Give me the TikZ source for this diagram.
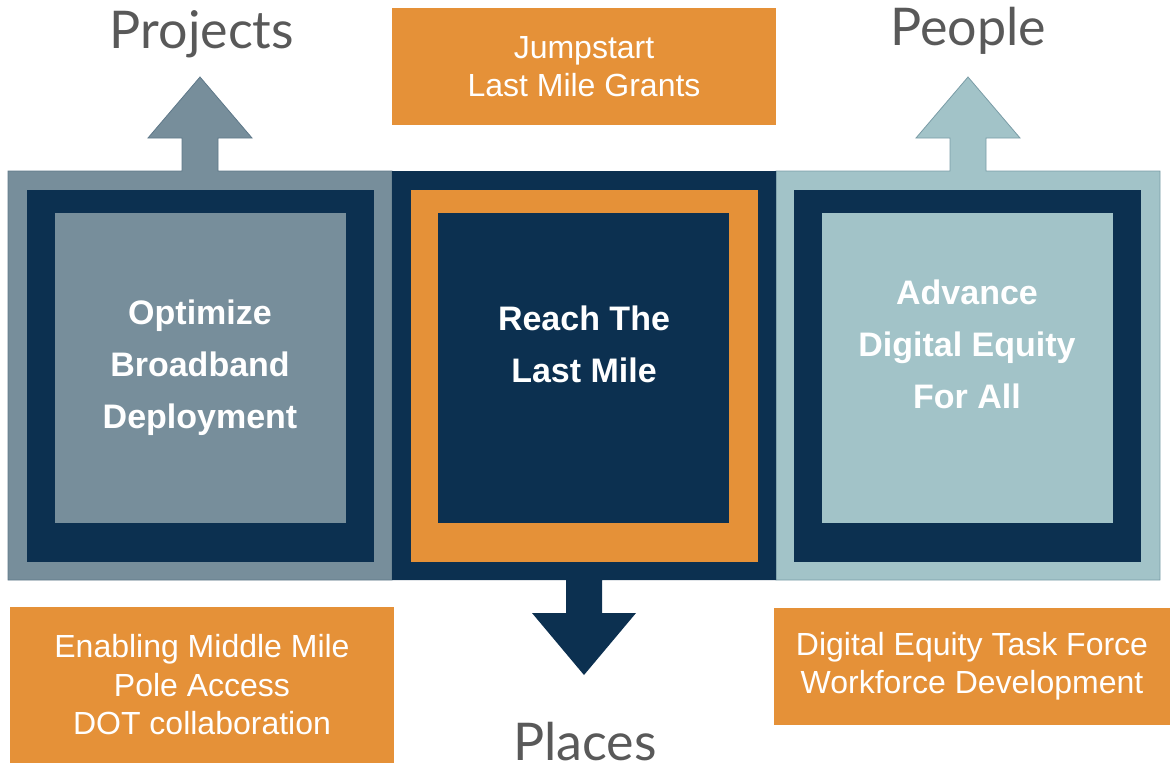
\documentclass[tikz,border=0pt]{standalone}
\usepackage{fontspec}
\setmainfont{Liberation Sans}
\newfontfamily\titlefont{Lato}
\definecolor{slate}{HTML}{778E9B}
\definecolor{slateedge}{HTML}{5E7889}
\definecolor{navy}{HTML}{0C3050}
\definecolor{orng}{HTML}{E59138}
\definecolor{teal}{HTML}{A2C3C8}
\definecolor{tealedge}{HTML}{7A9CA6}
\definecolor{txtgray}{HTML}{595959}
\tikzset{
  titletext/.style={font=\titlefont\fontsize{52}{60}\selectfont, text=txtgray, inner sep=0pt, anchor=base},
  panetext/.style={font=\bfseries\fontsize{34}{52}\selectfont, text=white, align=center, inner sep=0pt},
  notebox/.style={fill=orng, text=white, align=center, inner sep=0pt, font=\fontsize{32}{38.5}\selectfont},
}
\begin{document}
\begin{tikzpicture}[x=1pt,y=-1pt]
\useasboundingbox (0,0) rectangle (1170,772);
% left panel with up arrow
\filldraw[fill=slate, draw=slateedge, line width=0.8pt]
  (8,171) -- (182,171) -- (182,138) -- (148,138) -- (200,77) -- (252,138) -- (218,138) -- (218,171)
  -- (392,171) -- (392,580) -- (8,580) -- cycle;
% right panel with up arrow
\filldraw[fill=teal, draw=tealedge, line width=0.8pt]
  (776,171) -- (950,171) -- (950,138) -- (916,138) -- (968,77) -- (1020,138) -- (986,138) -- (986,171)
  -- (1160,171) -- (1160,580) -- (776,580) -- cycle;
% center panel with down arrow
\fill[navy]
  (392,171) -- (776,171) -- (776,580) -- (602,580) -- (602,613) -- (636,613) -- (584,675)
  -- (532,613) -- (566,613) -- (566,580) -- (392,580) -- cycle;
% inner frames
\fill[navy] (27,190) rectangle (374,562);
\fill[slate] (55,213) rectangle (346,523);
\fill[orng] (411,190) rectangle (758,562);
\fill[navy] (438,213) rectangle (729,523);
\fill[navy] (794,190) rectangle (1141,562);
\fill[teal] (822,213) rectangle (1113,523);
% panel texts
\node[panetext] (opt) at (200,368) {Optimize\\Broadband\\Deployment};
\node[panetext] (reach) at (584,344) {Reach The\\Last Mile};
\node[panetext] (adv) at (967,344) {Advance\\Digital Equity\\For All};
% titles
\node[titletext] (projects) at (202,48) {Projects};
\node[titletext] (people) at (968,45) {People};
\node[titletext] (places) at (585,760) {Places};
% orange note boxes
\node[notebox, minimum width=384pt, minimum height=117pt] (jump) at (584,66.5) {Jumpstart\\Last Mile Grants};
\node[notebox, minimum width=384pt, minimum height=156pt] (middle) at (202,685) {Enabling Middle Mile\\Pole Access\\DOT collaboration};
\node[notebox, minimum width=396pt, minimum height=117pt] (equity) at (972,666) {Digital Equity Task Force\\Workforce Development};
\end{tikzpicture}
\end{document}
